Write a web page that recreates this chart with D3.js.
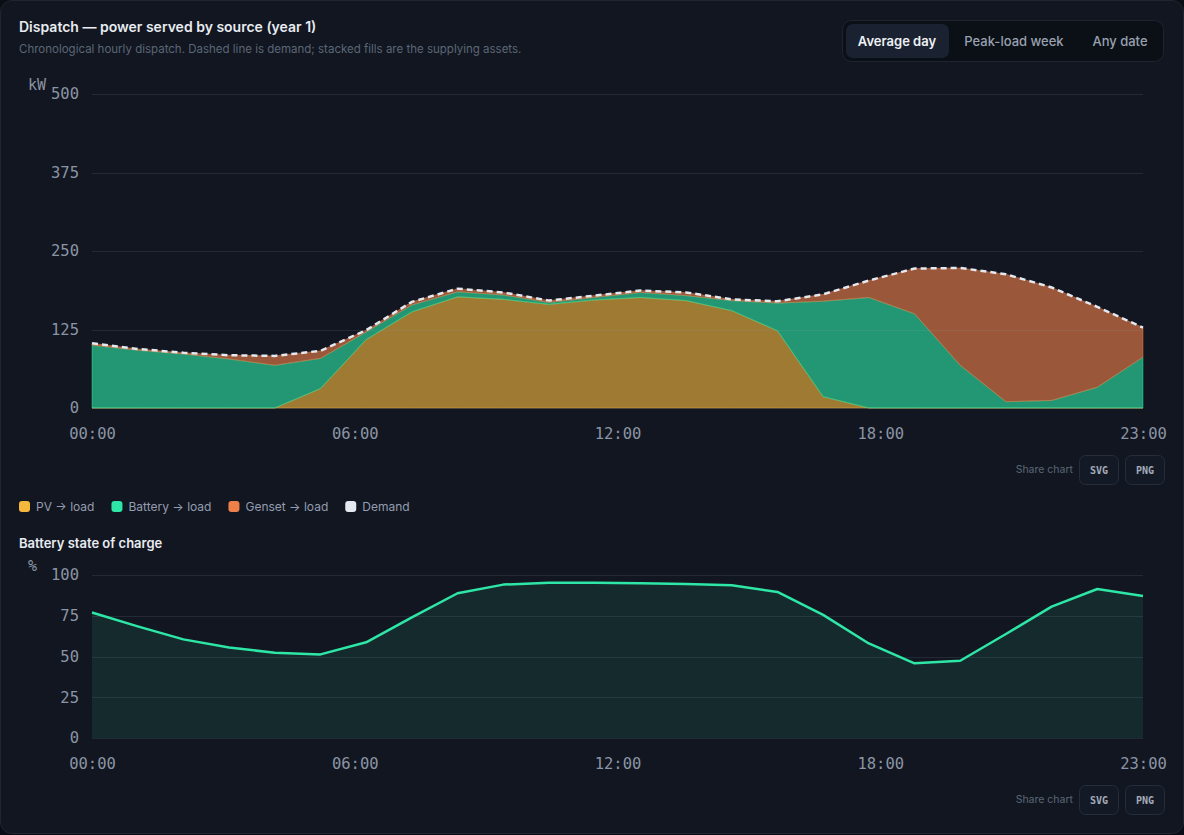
<!DOCTYPE html>
<html>
<head>
<meta charset="utf-8">
<script src="https://cdn.jsdelivr.net/npm/d3@7"></script>
<style>
body { margin: 0; background: #0a0d13; font-family: Inter, "Noto Sans", sans-serif; }
#card { position: absolute; left: 0; top: 0; width: 1182px; height: 832px; border: 1px solid #1f2531; border-radius: 12px; background: #111620; }
#chart { position: absolute; left: 0; top: 0; }
</style>
</head>
<body>
<div id="card"></div>
<div id="chart"></div>
<script>
const hours = ["00:00","01:00","02:00","03:00","04:00","05:00","06:00","07:00","08:00","09:00","10:00","11:00",
	"12:00","13:00","14:00","15:00","16:00","17:00","18:00","19:00","20:00","21:00","22:00","23:00"]
const tickLabels = ["00:00", "06:00", "12:00", "18:00", "23:00"]

// kW served per hour, average day
const pv      = [0, 0, 0, 0, 0, 31, 109, 153, 177, 173, 165, 172, 176, 171, 155, 123, 18, 0, 0, 0, 0, 0, 0, 0]
const battery = [100, 92, 86, 78, 68, 48, 12, 11, 8, 7, 3, 4, 8, 8, 16, 44, 152, 176, 150, 68, 10, 12, 33, 81]
const genset  = [3, 2, 2, 6, 15, 12, 3, 5, 5, 4, 3, 3, 3, 5, 2, 3, 11, 27, 72, 155, 203, 180, 128, 47]
const demand  = [103, 94, 88, 84, 83, 91, 124, 169, 190, 184, 171, 179, 187, 184, 173, 170, 181, 203, 222, 223, 213, 192, 161, 128]
const kwTicks = [0, 125, 250, 375, 500]

// battery state of charge, %
const soc = [77, 68.5, 60.5, 55.5, 52.3, 51.3, 58.7, 74, 88.8, 94.1, 95.3, 95.3, 95, 94.5, 93.7, 89.6, 75.5, 58, 45.8, 47.4, 63.8, 80.6, 91.4, 87.1]
const socTicks = [0, 25, 50, 75, 100]

const series = [
	{ key: "pv", label: "PV \u2192 load", color: "#f5b83d" },
	{ key: "battery", label: "Battery \u2192 load", color: "#2ee6a6" },
	{ key: "genset", label: "Genset \u2192 load", color: "#f0804a" }
]
const demandColor = "#e4e8f0"
const toggles = ["Average day", "Peak-load week", "Any date"]

const mono = "'DejaVu Sans Mono', monospace"
const gridColor = "rgba(148,163,184,0.14)"
const tickColor = "#8b94a4"

const svg = d3.select("#chart").append("svg").attr("width", 1184).attr("height", 835)

const x = d3.scaleLinear().domain([0, hours.length - 1]).range([92, 1143])
const xTick = d3.scaleLinear().domain([0, tickLabels.length - 1]).range(x.range())

// header
svg.append("text").attr("x", 19).attr("y", 32).attr("fill", "#e8ebf0")
	.style("font-size", "14px").style("font-weight", 600)
	.text("Dispatch \u2014 power served by source (year 1)")
svg.append("text").attr("x", 19).attr("y", 53).attr("fill", "#5c6676")
	.style("font-size", "11.5px")
	.text("Chronological hourly dispatch. Dashed line is demand; stacked fills are the supplying assets.")

const tg = svg.append("g")
tg.append("rect").attr("x", 842.5).attr("y", 20.5).attr("width", 321).attr("height", 41).attr("rx", 9)
	.attr("fill", "#0b0f16").attr("stroke", "#1e2430")
tg.append("rect").attr("x", 846).attr("y", 24).attr("width", 103).attr("height", 34).attr("rx", 7).attr("fill", "#1a2130")
const toggleX = [897, 1014, 1120]
toggles.forEach((t, i) => {
	tg.append("text").attr("x", toggleX[i]).attr("y", 46).attr("text-anchor", "middle")
		.attr("fill", i === 0 ? "#eef1f5" : "#98a1b0")
		.style("font-size", "13px").style("font-weight", i === 0 ? 600 : 500)
		.text(t)
})

const shareRow = (y) => {
	const g = svg.append("g").attr("transform", `translate(0,${y})`)
	g.append("text").attr("x", 1073).attr("y", 18).attr("text-anchor", "end").attr("fill", "#5c6676")
		.style("font-size", "10.5px").text("Share chart")
	;["SVG", "PNG"].forEach((t, i) => {
		g.append("rect").attr("x", 1079.5 + i * 46).attr("y", 0.5).attr("width", 39).attr("height", 29).attr("rx", 6)
			.attr("fill", "#141a25").attr("stroke", "#262d3a")
		g.append("text").attr("x", 1099 + i * 46).attr("y", 19).attr("text-anchor", "middle").attr("fill", "#a3abb9")
			.style("font-family", mono).style("font-size", "10px").style("font-weight", 700).text(t)
	})
}

const drawAxes = (y, ticks, unit, unitY) => {
	const [y0] = y.range()
	svg.append("g").attr("transform", `translate(0,${y0})`)
		.call(d3.axisBottom(xTick).tickValues(d3.range(tickLabels.length)).tickFormat(i => tickLabels[i]).tickSize(0).tickPadding(20))
		.call(g => g.select(".domain").remove())
		.call(g => g.selectAll("text").attr("fill", tickColor).style("font-family", mono).style("font-size", "15.5px"))
	svg.append("g").attr("transform", "translate(92,0)")
		.call(d3.axisLeft(y).tickValues(ticks).tickSize(0).tickPadding(13))
		.call(g => g.select(".domain").remove())
		.call(g => g.selectAll("text").attr("fill", tickColor).style("font-family", mono).style("font-size", "15.5px"))
	svg.append("text").attr("x", 28).attr("y", unitY).attr("fill", tickColor)
		.style("font-family", mono).style("font-size", "15px").text(unit)
}

const drawGrid = (y, ticks) => {
	svg.append("g").selectAll("line").data(ticks).join("line")
		.attr("x1", x.range()[0]).attr("x2", x.range()[1])
		.attr("y1", d => Math.round(y(d)) + 0.5).attr("y2", d => Math.round(y(d)) + 0.5)
		.attr("stroke", gridColor)
}

// dispatch chart
const yKw = d3.scaleLinear().domain([0, 500]).range([408, 94])
const table = hours.map((h, i) => ({ pv: pv[i], battery: battery[i], genset: genset[i] }))
const stacked = d3.stack().keys(series.map(s => s.key))(table)

svg.append("g").selectAll("path").data(stacked).join("path")
	.attr("d", d3.area().x((d, i) => x(i)).y0(d => yKw(d[0])).y1(d => yKw(d[1])))
	.attr("fill", (d, i) => series[i].color).attr("fill-opacity", 0.62)
	.attr("stroke", (d, i) => series[i].color).attr("stroke-opacity", 0.45).attr("stroke-width", 1)

drawGrid(yKw, kwTicks)

svg.append("path").datum(demand)
	.attr("d", d3.line().x((d, i) => x(i)).y(d => yKw(d)))
	.attr("fill", "none").attr("stroke", demandColor).attr("stroke-width", 2.5).attr("stroke-dasharray", "6,4")

drawAxes(yKw, kwTicks, "kW", 90)
shareRow(455)

// legend
const legendItems = series.map(s => ({ label: s.label, color: s.color })).concat([{ label: "Demand", color: demandColor }])
let lx = 19
legendItems.forEach(item => {
	svg.append("rect").attr("x", lx).attr("y", 501).attr("width", 11).attr("height", 11).attr("rx", 3).attr("fill", item.color)
	const t = svg.append("text").attr("x", lx + 17).attr("y", 511).attr("fill", "#949daf")
		.style("font-size", "12px").text(item.label)
	lx += 17 + t.node().getComputedTextLength() + 17
})

// state of charge chart
svg.append("text").attr("x", 19).attr("y", 548).attr("fill", "#e8ebf0")
	.style("font-size", "13px").style("font-weight", 600).text("Battery state of charge")

const ySoc = d3.scaleLinear().domain([0, 100]).range([738, 575])

svg.append("path").datum(soc)
	.attr("d", d3.area().x((d, i) => x(i)).y0(ySoc(0)).y1(d => ySoc(d)))
	.attr("fill", "#2ee6a6").attr("fill-opacity", 0.1)

drawGrid(ySoc, socTicks)

svg.append("path").datum(soc)
	.attr("d", d3.line().x((d, i) => x(i)).y(d => ySoc(d)))
	.attr("fill", "none").attr("stroke", "#2ee6a6").attr("stroke-width", 2.5).attr("stroke-linejoin", "round")

drawAxes(ySoc, socTicks, "%", 571)
shareRow(785)
</script>
</body>
</html>
